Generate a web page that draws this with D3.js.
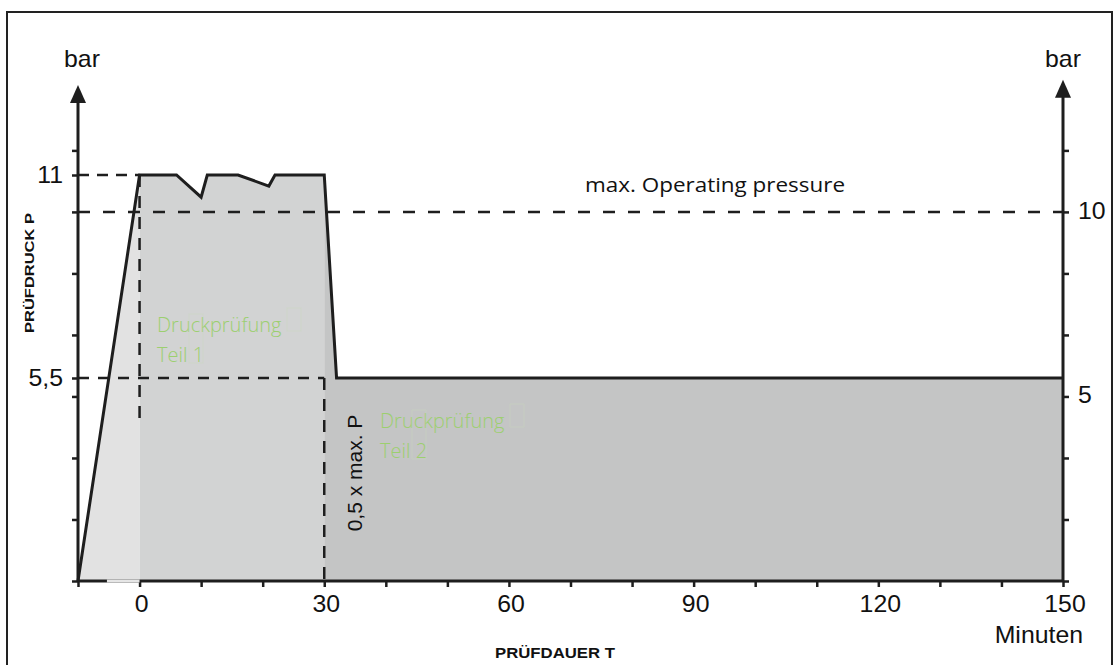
<!DOCTYPE html>
<html>
<head>
<meta charset="utf-8">
<script src="https://cdn.jsdelivr.net/npm/d3@7"></script>
<style>
body{margin:0;background:#fff;}
</style>
</head>
<body>
<svg id="chart" width="1115" height="665"></svg>
<script>
/*
Pressure test diagram: test pressure over time,
part 1 at 11 bar, part 2 at 0,5 x max. P
*/

//pressure curve (minutes, bar)
var timeMin = [-10, 0, 6, 10, 11, 16, 21, 22, 30, 32, 150];
var pressureBar = [0, 11, 11, 10.4, 11, 11, 10.7, 11, 11, 5.5, 5.5];

//phases of the test and their shade
var phaseStart = [-10, 0, 30];
var phaseEnd = [0, 30, 150];
var phaseFill = ["#e2e2e2", "#d2d3d3", "#c4c5c5"];

//axis ticks and labels
var xTicks = d3.range(-10, 151, 10);
var xLabels = [0, 30, 60, 90, 120, 150];
var yTicks = d3.range(0, 8).map(function(i){ return i * 5 / 3; });
var leftLabels = [11, 5.5];
var leftLabelText = ["11", "5,5"];
var rightLabels = [10, 5];
var rightLabelText = ["10", "5"];

//reference levels
var testPressure = 11;
var halfPressure = 5.5;
var maxOperating = 10;
var part1DashEnd = 4.3;

var svg = d3.select("#chart");
var ink = "#1e1e1e";
var sans = "'Liberation Sans', Arial, sans-serif";

var x = d3.scaleLinear().domain([-10, 150]).range([78, 1063]);
var y = d3.scaleLinear().domain([0, 11]).range([581, 175]);

var curve = timeMin.map(function(t, i){ return {t: t, p: pressureBar[i]}; });

//outer frame
svg.append("rect")
.attr("x", 7).attr("y", 12)
.attr("width", 1105).attr("height", 700)
.attr("fill", "none")
.attr("stroke", "#222")
.attr("stroke-width", 2);

//shaded areas, one clip per phase
var area = d3.area()
.x(function(d){ return x(d.t); })
.y0(y(0))
.y1(function(d){ return y(d.p); });

var defs = svg.append("defs");
phaseStart.forEach(function(s, i){
	defs.append("clipPath")
	.attr("id", "phase" + i)
	.append("rect")
	.attr("x", x(s))
	.attr("y", 0)
	.attr("width", x(phaseEnd[i]) - x(s))
	.attr("height", 665);

	svg.append("path")
	.datum(curve)
	.attr("d", area)
	.attr("fill", phaseFill[i])
	.attr("clip-path", "url(#phase" + i + ")");
});

//dashed helper lines
function dashed(x1, y1, x2, y2, pattern){
	svg.append("line")
	.attr("x1", x1).attr("y1", y1)
	.attr("x2", x2).attr("y2", y2)
	.attr("stroke", ink)
	.attr("stroke-width", 2.5)
	.attr("stroke-dasharray", pattern);
}
dashed(x(-10), y(testPressure), x(0), y(testPressure), "11,8");
dashed(x(-10), y(maxOperating), x(150), y(maxOperating), "12,13");
dashed(x(0), y(testPressure), x(0), y(part1DashEnd), "12,9");
dashed(x(-10), y(halfPressure), x(30), y(halfPressure), "11,9");
dashed(x(30), y(halfPressure), x(30), y(0), "12,9");

//pressure line
svg.append("path")
.datum(curve)
.attr("d", d3.line()
	.x(function(d){ return x(d.t); })
	.y(function(d){ return y(d.p); }))
.attr("fill", "none")
.attr("stroke", ink)
.attr("stroke-width", 3)
.attr("stroke-linejoin", "miter");

//x axis
var xAxis = svg.append("g")
.attr("transform", "translate(0," + y(0) + ")")
.call(d3.axisBottom(x).tickValues(xTicks).tickSize(6).tickSizeOuter(0).tickFormat(""));

//left and right axis ticks
var yLeft = svg.append("g")
.attr("transform", "translate(" + x(-10) + ",0)")
.call(d3.axisLeft(y).tickValues(yTicks.concat(leftLabels)).tickSize(6).tickSizeOuter(0).tickFormat(""));

var yRight = svg.append("g")
.attr("transform", "translate(" + x(150) + ",0)")
.call(d3.axisRight(y).tickValues(yTicks).tickSize(6).tickSizeOuter(0).tickFormat(""));

[xAxis, yLeft, yRight].forEach(function(g){
	g.select(".domain").remove();
	g.selectAll(".tick line").attr("stroke", ink).attr("stroke-width", 2.5);
});

//axis lines with arrow heads
svg.append("line")
.attr("x1", x(-10)).attr("x2", x(150))
.attr("y1", y(0)).attr("y2", y(0))
.attr("stroke", ink).attr("stroke-width", 3);

//light gap in the x axis under the ramp
svg.append("line")
.attr("x1", x(-5.3)).attr("x2", x(0))
.attr("y1", y(0)).attr("y2", y(0))
.attr("stroke", "#e6e6e6").attr("stroke-width", 3);

function arrowAxis(xp, topVal){
	var tip = y(topVal);
	svg.append("line")
	.attr("x1", xp).attr("x2", xp)
	.attr("y1", y(0) + 1).attr("y2", tip + 10)
	.attr("stroke", ink).attr("stroke-width", 3);
	svg.append("path")
	.attr("d", "M" + xp + "," + tip + "L" + (xp + 8) + "," + (tip + 18) + "L" + (xp - 8) + "," + (tip + 18) + "Z")
	.attr("fill", ink);
}
arrowAxis(x(-10), 13.44);
arrowAxis(x(150), 13.58);

//horizontal Arial text, slightly wide like the original
function wideText(px, py, str, anchor){
	return svg.append("g")
	.attr("transform", "translate(" + px + "," + py + ") scale(1.08,1)")
	.append("text")
	.attr("text-anchor", anchor)
	.attr("font-family", sans)
	.attr("font-size", 23)
	.attr("fill", "#111")
	.text(str);
}

wideText(x(-10) + 4, 67, "bar", "middle");
wideText(x(150), 67, "bar", "middle");

leftLabels.forEach(function(v, i){
	wideText(63, y(v) + 8, leftLabelText[i], "end");
});
rightLabels.forEach(function(v, i){
	wideText(x(150) + 15, y(v) + 7, rightLabelText[i], "start");
});
xLabels.forEach(function(v){
	wideText(x(v) + 2, 612, String(v), "middle");
});
wideText(1083, 643, "Minuten", "end");

//axis titles
svg.append("text")
.attr("transform", "translate(34,273) rotate(-90)")
.attr("text-anchor", "middle")
.attr("font-family", sans)
.attr("font-weight", "bold")
.attr("font-size", 13)
.attr("textLength", 120)
.attr("lengthAdjust", "spacingAndGlyphs")
.attr("fill", "#111")
.text("PRÜFDRUCK P");

svg.append("text")
.attr("x", 495)
.attr("y", 658)
.attr("font-family", sans)
.attr("font-weight", "bold")
.attr("font-size", 14.5)
.attr("textLength", 120)
.attr("lengthAdjust", "spacingAndGlyphs")
.attr("fill", "#111")
.text("PRÜFDAUER T");

//annotations
svg.append("text")
.attr("x", 585)
.attr("y", 192)
.attr("font-family", "'Open Sans', sans-serif")
.attr("font-size", 20)
.attr("textLength", 260)
.attr("lengthAdjust", "spacingAndGlyphs")
.attr("fill", "#111")
.text("max. Operating pressure");

svg.append("text")
.attr("transform", "translate(" + (x(30) + 38) + ",473) rotate(-90)")
.attr("text-anchor", "middle")
.attr("font-family", sans)
.attr("font-size", 21)
.attr("fill", "#111")
.text("0,5 x max. P");

//green phase names, with the faint glyph boxes of the original
function phaseName(px, py, part){
	var g = svg.append("g").attr("transform", "translate(" + px + "," + py + ")");
	g.append("text")
	.attr("font-family", "'Open Sans', sans-serif")
	.attr("font-weight", 300)
	.attr("font-size", 20)
	.attr("fill", "#9ccf6f")
	.text("Druckprüfung");
	g.append("text")
	.attr("y", 30)
	.attr("font-family", "'Open Sans', sans-serif")
	.attr("font-weight", 300)
	.attr("font-size", 20)
	.attr("fill", "#9ccf6f")
	.text("Teil " + part);
	g.append("rect")
	.attr("x", 32).attr("y", -18).attr("width", 14).attr("height", 49)
	.attr("fill", "none").attr("stroke", "#c8d8bb").attr("stroke-opacity", 0.45).attr("stroke-width", 1);
	g.append("rect")
	.attr("x", 130).attr("y", -24).attr("width", 14).attr("height", 23)
	.attr("fill", "none").attr("stroke", "#c8d8bb").attr("stroke-opacity", 0.45).attr("stroke-width", 1);
}
phaseName(157, 332, 1);
phaseName(380, 428, 2);
</script>
</body>
</html>
